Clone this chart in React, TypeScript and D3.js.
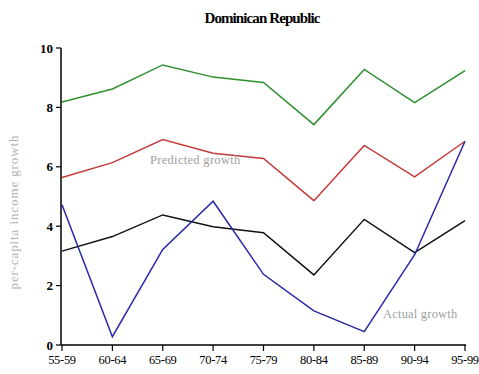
import React from 'react';
import * as d3 from 'd3';

const periods = ['55-59', '60-64', '65-69', '70-74', '75-79', '80-84', '85-89', '90-94', '95-99'];
const upperBand = [8.18, 8.62, 9.43, 9.02, 8.84, 7.42, 9.28, 8.16, 9.24];
const lowerBand = [5.64, 6.14, 6.92, 6.46, 6.28, 4.86, 6.72, 5.66, 6.86];
const predicted = [3.16, 3.65, 4.38, 3.98, 3.78, 2.36, 4.23, 3.11, 4.19];
const actual = [4.72, 0.28, 3.22, 4.84, 2.38, 1.15, 0.45, 3.04, 6.86];
const yTicks = [0, 2, 4, 6, 8, 10];

const W = 479;
const H = 374;

export default function App() {
  const x = d3.scalePoint<string>().domain(periods).range([62, 465]).padding(0);
  const y = d3.scaleLinear().domain([0, 10]).range([345, 48]);

  const line = d3.line<number>()
    .x((d, i) => x(periods[i]) as number)
    .y(d => y(d));

  const series = [
    { vals: upperBand, color: '#2f8f2f' },
    { vals: lowerBand, color: '#c43a3a' },
    { vals: predicted, color: '#111111' },
    { vals: actual, color: '#2828a8' },
  ];

  return (
    <svg width={W} height={H} style={{ position: 'absolute', left: 0, top: 0, background: '#fff' }}>
      <text x={262} y={23} textAnchor="middle" fontFamily="Liberation Serif" fontWeight="bold" fontSize={15} letterSpacing={-0.9}>
        Dominican Republic
      </text>

      {/* y axis */}
      <line x1={61} x2={61} y1={y(10)} y2={y(0)} stroke="#000" strokeWidth={1.5} />
      {yTicks.map(t => (
        <g key={t}>
          <line x1={56} x2={61} y1={y(t)} y2={y(t)} stroke="#000" strokeWidth={1.2} />
          <text x={53} y={y(t) + 4.5} textAnchor="end" fontFamily="Liberation Serif" fontWeight="bold" fontSize={13}>
            {t}
          </text>
        </g>
      ))}

      {/* x axis */}
      <line x1={61} x2={466} y1={y(0)} y2={y(0)} stroke="#000" strokeWidth={1.5} />
      {periods.map(p => (
        <g key={p}>
          <line x1={x(p)} x2={x(p)} y1={y(0)} y2={y(0) + 6} stroke="#000" strokeWidth={1.2} />
          <text x={x(p)} y={y(0) + 19} textAnchor="middle" fontFamily="Liberation Serif" fontSize={12.5} letterSpacing={-0.3}>
            {p}
          </text>
        </g>
      ))}

      <text transform={`translate(18,${212}) rotate(-90)`} textAnchor="middle" fontFamily="Liberation Serif" fontSize={13} letterSpacing={0.9} fill="#b0b0b0">
        per-capita income growth
      </text>

      {series.map((s, i) => (
        <path key={i} d={line(s.vals) as string} fill="none" stroke={s.color} strokeWidth={1.5} />
      ))}

      <text x={150} y={164} fontFamily="Liberation Serif" fontSize={12.5} letterSpacing={0.3} fill="#a0a0a0">Predicted growth</text>
      <text x={383} y={318} fontFamily="Liberation Serif" fontSize={12.5} letterSpacing={0.2} fill="#a0a0a0">Actual growth</text>
    </svg>
  );
}
